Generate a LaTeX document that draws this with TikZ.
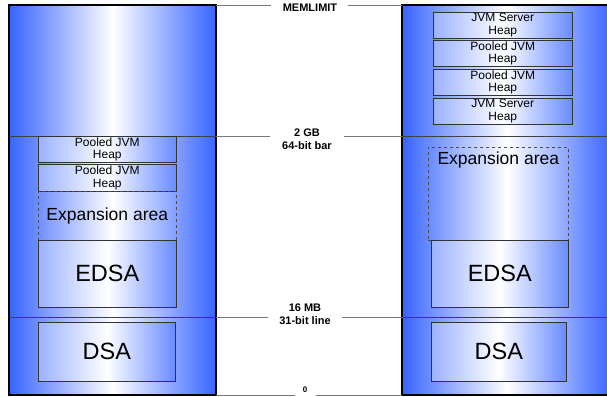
\documentclass[tikz,border=0pt]{standalone}
\usepackage{fontspec}
\setmainfont{Liberation Sans}
\definecolor{cb}{RGB}{55,100,255}
\definecolor{lg}{RGB}{120,120,120}
\begin{document}
\begin{tikzpicture}[x=1pt,y=-1pt,
  colfill/.style={left color=cb,right color=cb,middle color=white},
  inbox/.style={draw=black!80,line width=0.6pt,left color=cb!50!white,right color=cb!75!white,middle color=white,inner sep=0pt,anchor=north west},
  heapbox/.style={inbox,minimum width=138pt,minimum height=26pt,align=center,font=\fontsize{12}{12.5}\selectfont},
  bigbox/.style={inbox,font=\fontsize{23.5}{26}\selectfont},
  expbox/.style={draw=black!70,dashed,line width=0.6pt,inner sep=0pt,anchor=north west,font=\fontsize{17.5}{20}\selectfont},
  lbl/.style={font=\bfseries\fontsize{11}{13.5}\selectfont,align=center,inner sep=1pt},
  conn/.style={draw=lg,line width=0.8pt},
  divider/.style={draw=black!75,line width=0.6pt}]
\useasboundingbox (0,0) rectangle (607,396);
% columns
\shade[colfill] (9,5) rectangle (216,395);
\begin{scope}
\clip (0,0) rectangle (607,396);
\shade[colfill] (402,5) rectangle (612,395);
\draw[line width=1.6pt] (612,5) -- (402,5) -- (402,395) -- (612,395);
\end{scope}
\draw[line width=1.6pt] (9,5) rectangle (216,395);
% dividers
\draw[divider] (9,136) -- (216,136);
\draw[divider] (9,317) -- (216,317);
\draw[divider] (402,136) -- (607,136);
\draw[divider] (402,317) -- (607,317);
% left column contents
\node[heapbox] (lp1) at (38,136) {Pooled JVM\\Heap};
\node[heapbox,minimum height=27pt] (lp2) at (38,164) {Pooled JVM\\Heap};
\node[expbox,minimum width=138pt,minimum height=49pt] (lexp) at (38,191) {Expansion area};
\node[bigbox,minimum width=138pt,minimum height=67pt] (ledsa) at (38,240) {EDSA};
\node[bigbox,minimum width=137pt,minimum height=59pt] (ldsa) at (38,322) {DSA};
% right column contents
\node[heapbox,minimum width=139pt] (rj1) at (433,12) {JVM Server\\Heap};
\node[heapbox,minimum width=139pt] (rp1) at (433,40) {Pooled JVM\\Heap};
\node[heapbox,minimum width=139pt] (rp2) at (433,69) {Pooled JVM\\Heap};
\node[heapbox,minimum width=139pt] (rj2) at (433,98) {JVM Server\\Heap};
\node[expbox,minimum width=140pt,minimum height=93pt] (rexp) at (428,147) {};
\node[font=\fontsize{17.5}{20}\selectfont,anchor=north,inner sep=5pt] (rexpt) at (rexp.north) {Expansion area};
\node[bigbox,minimum width=137pt,minimum height=67pt] (redsa) at (431,240) {EDSA};
\node[bigbox,minimum width=135pt,minimum height=59pt] (rdsa) at (431,322) {DSA};
% labels
\node[lbl] (mem) at (310,8) {MEMLIMIT};
\node[lbl] (gb) at (307,139) {2 GB\\64-bit bar};
\node[lbl] (mb) at (305,314) {16 MB\\31-bit line};
\node[lbl,font=\bfseries\fontsize{8}{9}\selectfont] (zero) at (305,390) {0};
\coordinate (m1) at (216,5); \coordinate (m2) at (402,5);
\coordinate (g1) at (216,136); \coordinate (g2) at (402,136);
\coordinate (s1) at (216,317); \coordinate (s2) at (402,317);
\coordinate (z1) at (216,395); \coordinate (z2) at (402,395);
\draw[conn] (m1) -- (271,5); \draw[conn] (348,5) -- (m2);
\draw[conn] (g1) -- (270,136); \draw[conn] (344,136) -- (g2);
\draw[conn] (s1) -- (268,317); \draw[conn] (342,317) -- (s2);
\draw[conn] (z1) -- (295,395); \draw[conn] (316,395) -- (z2);
\end{tikzpicture}
\end{document}
